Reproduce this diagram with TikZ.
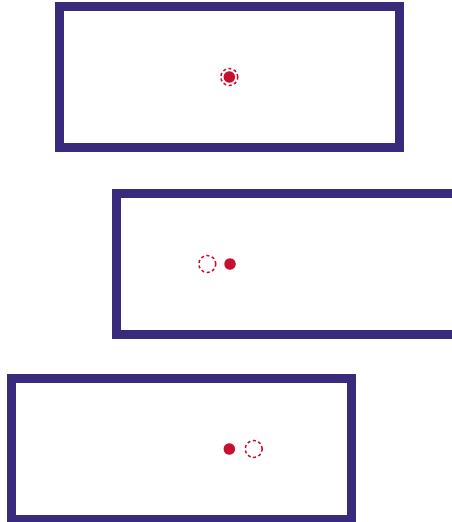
\documentclass[tikz,border=0pt]{standalone}
\usepackage{tikz}
\definecolor{framepurple}{RGB}{58,42,124}
\definecolor{dotred}{RGB}{200,16,46}

\begin{document}
\begin{tikzpicture}[
    x=1pt, y=-1pt,
    frame/.style={draw=framepurple, line width=9pt, minimum width=340pt, minimum height=141pt, inner sep=0pt},
    dot/.style={circle, fill=dotred, inner sep=0pt, minimum size=11.5pt},
    ghost/.style={circle, draw=dotred, line width=1.5pt, dash pattern=on 3pt off 2.6pt, inner sep=0pt, minimum size=17pt}
]
    % 画布大小
    \useasboundingbox (0,0) rectangle (452,522);
    \clip (0,0) rectangle (452,522);

    % 节点定义 (3个框)
    \node[frame] (F1) at (229.5, 77) {};     % 上框
    \node[frame] (F2) at (286, 263.5) {};    % 中框
    \node[frame] (F3) at (181.5, 448.5) {};  % 下框

    % 1. 上框: 圆点与虚线圆重合
    \node[dot] (D1) at (229.3, 77) {};
    \node[ghost] (G1) at (D1) {};

    % 2. 中框: 虚线圆在左
    \node[dot] (D2) at (230, 264) {};
    \node[ghost] (G2) at (207.3, 264) {};

    % 3. 下框: 虚线圆在右
    \node[dot] (D3) at (229.3, 449) {};
    \node[ghost] (G3) at (253.7, 449) {};

\end{tikzpicture}
\end{document}
